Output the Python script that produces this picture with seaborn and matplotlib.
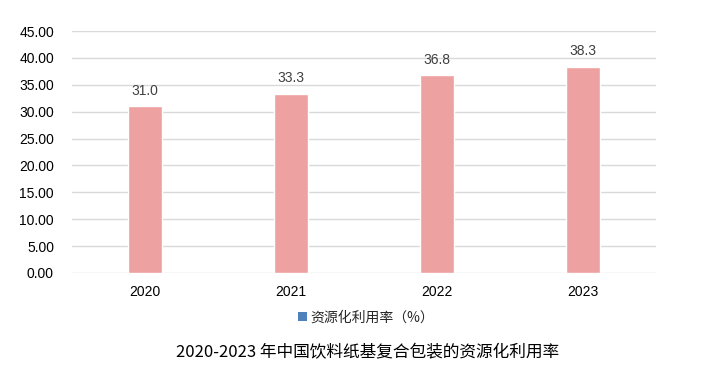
import pandas as pd
import seaborn as sns
import matplotlib.pyplot as plt
from matplotlib.patches import Patch

# data
years = ['2020', '2021', '2022', '2023']
rates = [31.0, 33.3, 36.8, 38.3]
series_name = '资源化利用率（%）'
chart_title = '2020-2023 年中国饮料纸基复合包装的资源化利用率'

df = pd.DataFrame({'year': years, 'rate': rates})

sns.set_style('white')
plt.rcParams['font.family'] = ['Liberation Sans', 'Noto Sans CJK SC', 'DejaVu Sans']

fig = plt.figure(figsize=(7.02, 3.81), dpi=100)
ax = fig.add_axes([0.1026, 0.2835, 0.832, 0.635])

sns.barplot(data=df, x='year', y='rate', color='#EDA1A0', width=0.233,
            saturation=1, ax=ax, zorder=3)

# value labels above bars
for i, v in enumerate(rates):
    ax.text(i, v + 1.6, f'{v:.1f}', ha='center', va='bottom',
            fontsize=10, color='#404040')

ax.set_ylim(0, 45)
ax.set_xlim(-0.5, 3.5)
ax.set_yticks(range(0, 50, 5))
ax.set_yticklabels([f'{t:.2f}' for t in range(0, 50, 5)], fontsize=10, color='#000000')
ax.tick_params(axis='x', labelsize=10, colors='#000000', length=0, pad=9)
ax.tick_params(axis='y', length=0, pad=13)
ax.set_xlabel('')
ax.set_ylabel('')
ax.grid(axis='y', color='#D9D9D9', linewidth=1, zorder=0)
for s in ax.spines.values():
    s.set_visible(False)

# legend below the axis
handle = Patch(facecolor='#4F81BD', edgecolor='none')
fig.legend([handle], [series_name], loc='center', bbox_to_anchor=(0.522, 0.166),
           frameon=False, handlelength=0.6, handleheight=0.6,
           handletextpad=0.3, prop={'family': ['Noto Sans CJK SC', 'DejaVu Sans'], 'size': 10})

fig.text(0.523, 0.075, chart_title, ha='center', va='center', fontsize=12,
         family=['Noto Sans CJK SC', 'DejaVu Sans'], color='#000000')

fig.savefig('out.png', dpi=100)
